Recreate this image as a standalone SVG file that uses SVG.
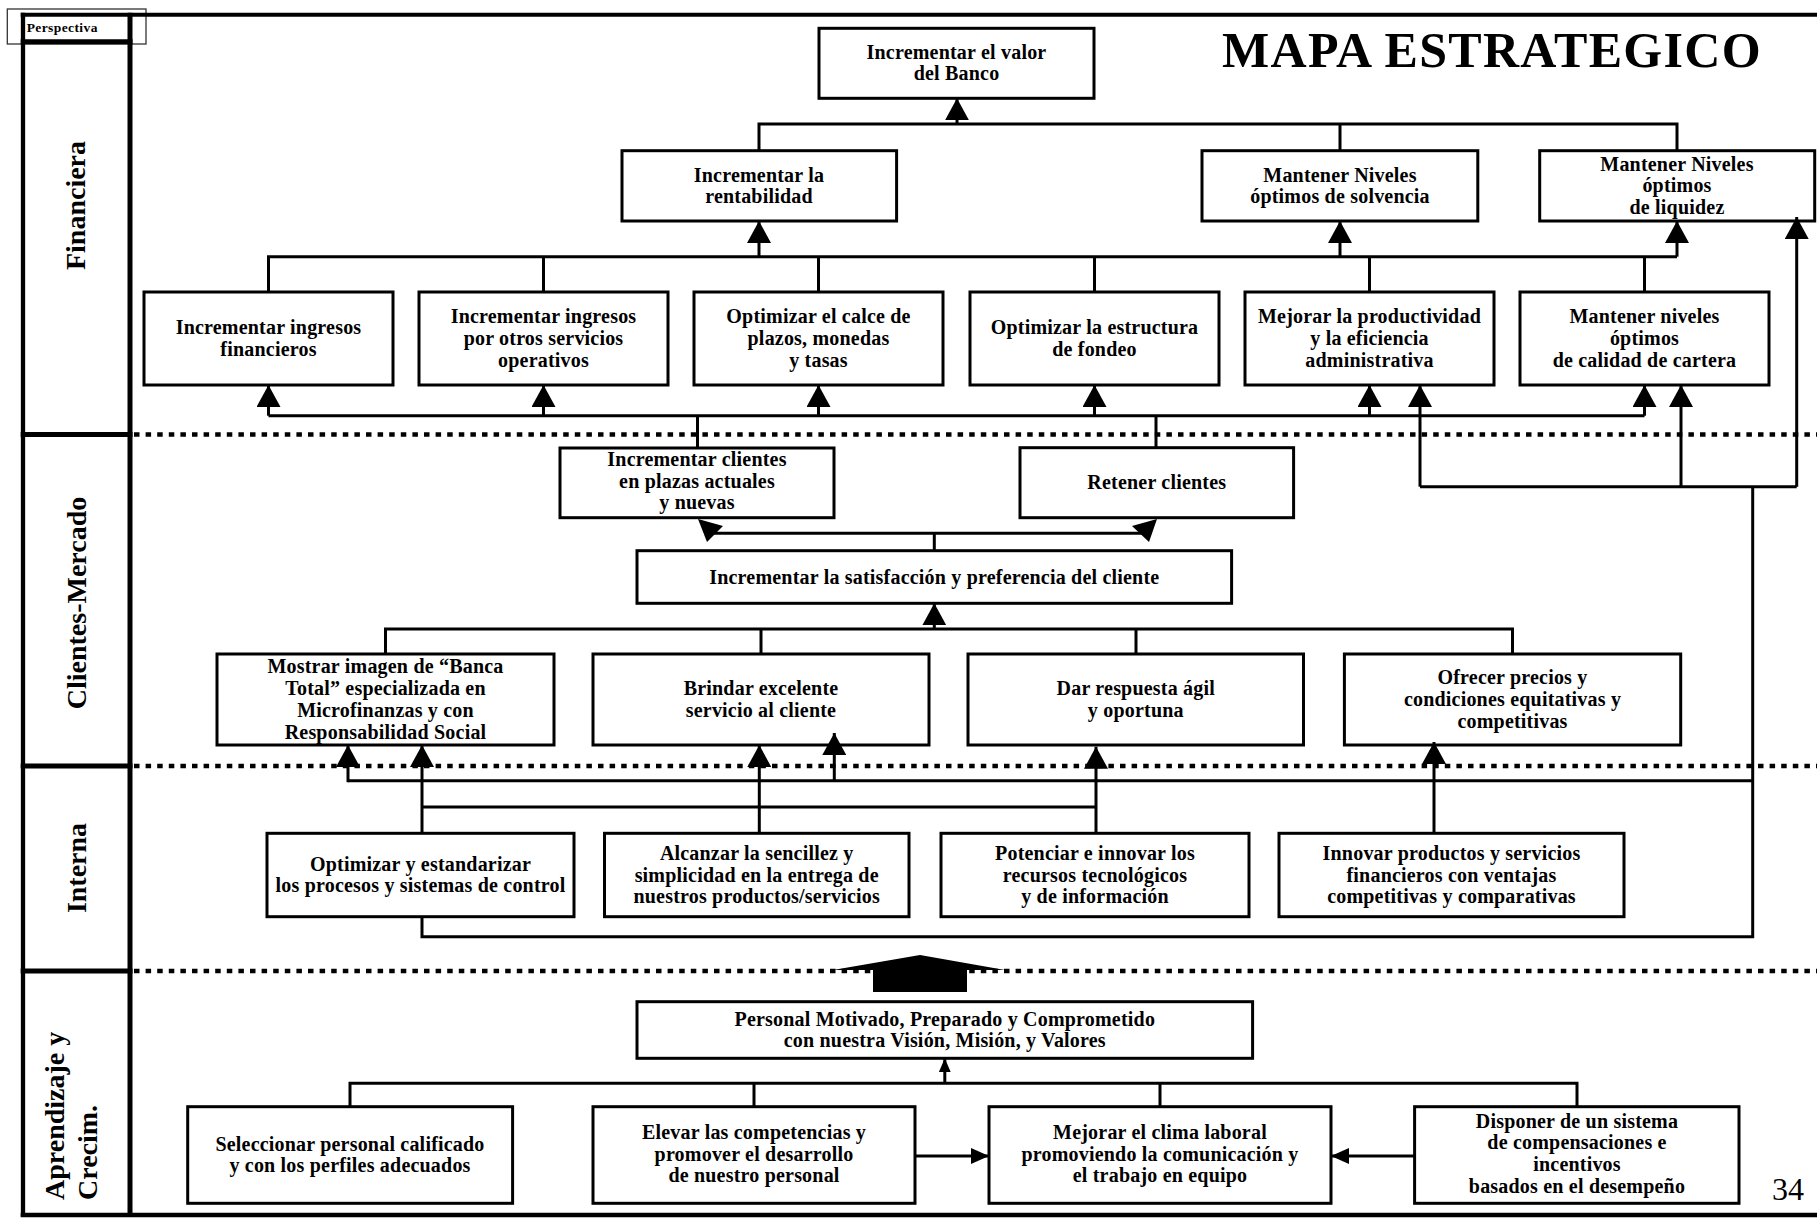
<svg xmlns="http://www.w3.org/2000/svg" width="1817" height="1218" viewBox="0 0 1817 1218">
<style>
.box{fill:#fff;stroke:#000;stroke-width:3}
.t{font-family:"Liberation Serif","Times New Roman",serif;font-weight:bold;font-size:20px;text-anchor:middle;letter-spacing:0.2px;fill:#000}
.lbl{font-family:"Liberation Serif","Times New Roman",serif;font-weight:bold;font-size:28px;fill:#000}
.c{fill:none;stroke:#000;stroke-width:3}
.a{marker-end:url(#ah)}
.as{marker-end:url(#ahs)}
.am{marker-end:url(#ahm)}
.sep{stroke:#000;stroke-width:4.5;stroke-dasharray:5.5 6.1}
.fr{stroke:#000;fill:none}
</style>
<defs>
<marker id="ah" markerUnits="userSpaceOnUse" markerWidth="22" markerHeight="24" refX="22" refY="12" orient="auto" viewBox="0 0 22 24"><path d="M0,0 L22,12 L0,24 Z" fill="#000"/></marker>
<marker id="ahm" markerUnits="userSpaceOnUse" markerWidth="18" markerHeight="16" refX="18" refY="8" orient="auto" viewBox="0 0 18 16"><path d="M0,0 L18,8 L0,16 Z" fill="#000"/></marker>
<marker id="ahs" markerUnits="userSpaceOnUse" markerWidth="14" markerHeight="12" refX="14" refY="6" orient="auto" viewBox="0 0 14 12"><path d="M0,0 L14,6 L0,12 Z" fill="#000"/></marker>
</defs>
<rect width="1817" height="1218" fill="#fff"/>

<g id="frame">
<rect x="7.3" y="9" width="138.7" height="35" fill="none" stroke="#333" stroke-width="1.3"/>
<text x="26.7" y="31.7" font-family="Liberation Serif, serif" font-weight="bold" font-size="13.5" letter-spacing="0.4">Perspectiva</text>
<line class="fr" x1="20.7" y1="14.7" x2="1817" y2="14.7" stroke-width="4"/>
<line class="fr" x1="20.7" y1="1215" x2="1817" y2="1215" stroke-width="4.5"/>
<line class="fr" x1="23" y1="12.7" x2="23" y2="1217" stroke-width="4.3"/>
<line class="fr" x1="130" y1="12.7" x2="130" y2="1217" stroke-width="5"/>
<line class="fr" x1="20.7" y1="41.8" x2="132.5" y2="41.8" stroke-width="5"/>
<line class="fr" x1="20.7" y1="434.5" x2="132.5" y2="434.5" stroke-width="5"/>
<line class="fr" x1="20.7" y1="766" x2="132.5" y2="766" stroke-width="5"/>
<line class="fr" x1="20.7" y1="971" x2="132.5" y2="971" stroke-width="5"/>
<line class="sep" x1="134" y1="434.5" x2="1817" y2="434.5"/>
<line class="sep" x1="134" y1="766" x2="1817" y2="766"/>
<line class="sep" x1="134" y1="971" x2="1817" y2="971"/>
</g>

<g id="perspectivas">
<text class="lbl" text-anchor="middle" transform="translate(85,205.5) rotate(-90)">Financiera</text>
<text class="lbl" text-anchor="middle" transform="translate(86,603) rotate(-90)">Clientes-Mercado</text>
<text class="lbl" text-anchor="middle" transform="translate(86,868) rotate(-90)">Interna</text>
<text class="lbl" transform="translate(64,1200) rotate(-90)">Aprendizaje y</text>
<text class="lbl" transform="translate(97,1200) rotate(-90)">Crecim.</text>
</g>

<text x="1222" y="66.7" font-family="Liberation Serif, serif" font-weight="bold" font-size="50" letter-spacing="1.3">MAPA ESTRATEGICO</text>
<text x="1772" y="1200" font-family="Liberation Serif, serif" font-size="32">34</text>

<g id="nodes">
<g id="n-valor"><rect class="box" x="819" y="28.3" width="275" height="70"/><text class="t"><tspan x="956.5" y="58.5">Incrementar el valor</tspan><tspan x="956.5" y="80.2">del Banco</tspan></text></g>
<g id="n-rentabilidad"><rect class="box" x="622" y="150.7" width="274.6" height="70.3"/><text class="t"><tspan x="759" y="181.5">Incrementar la</tspan><tspan x="759" y="203.2">rentabilidad</tspan></text></g>
<g id="n-solvencia"><rect class="box" x="1202" y="150.7" width="275.8" height="70.3"/><text class="t"><tspan x="1340" y="181.5">Mantener Niveles</tspan><tspan x="1340" y="203.2">óptimos de solvencia</tspan></text></g>
<g id="n-liquidez"><rect class="box" x="1539.7" y="150.7" width="275" height="70.3"/><text class="t"><tspan x="1677" y="170.7">Mantener Niveles</tspan><tspan x="1677" y="192.4">óptimos</tspan><tspan x="1677" y="214.1">de liquidez</tspan></text></g>

<g id="n-ingresos-fin"><rect class="box" x="144" y="292" width="249" height="93"/><text class="t"><tspan x="268.5" y="334.2">Incrementar ingresos</tspan><tspan x="268.5" y="355.9">financieros</tspan></text></g>
<g id="n-ingresos-otros"><rect class="box" x="419" y="292" width="249" height="93"/><text class="t"><tspan x="543.5" y="323.3">Incrementar ingresos</tspan><tspan x="543.5" y="345">por otros servicios</tspan><tspan x="543.5" y="366.7">operativos</tspan></text></g>
<g id="n-calce"><rect class="box" x="694" y="292" width="249" height="93"/><text class="t"><tspan x="818.5" y="323.3">Optimizar el calce de</tspan><tspan x="818.5" y="345">plazos, monedas</tspan><tspan x="818.5" y="366.7">y tasas</tspan></text></g>
<g id="n-fondeo"><rect class="box" x="970" y="292" width="249" height="93"/><text class="t"><tspan x="1094.5" y="334.2">Optimizar la estructura</tspan><tspan x="1094.5" y="355.9">de fondeo</tspan></text></g>
<g id="n-productividad"><rect class="box" x="1245" y="292" width="249" height="93"/><text class="t"><tspan x="1369.5" y="323.3">Mejorar la productividad</tspan><tspan x="1369.5" y="345">y la eficiencia</tspan><tspan x="1369.5" y="366.7">administrativa</tspan></text></g>
<g id="n-cartera"><rect class="box" x="1520" y="292" width="249" height="93"/><text class="t"><tspan x="1644.5" y="323.3">Mantener niveles</tspan><tspan x="1644.5" y="345">óptimos</tspan><tspan x="1644.5" y="366.7">de calidad de cartera</tspan></text></g>

<g id="n-clientes-plazas"><rect class="box" x="560" y="448" width="274" height="69.7"/><text class="t"><tspan x="697" y="466">Incrementar clientes</tspan><tspan x="697" y="487.7">en plazas actuales</tspan><tspan x="697" y="509.4">y nuevas</tspan></text></g>
<g id="n-retener"><rect class="box" x="1020" y="447.7" width="273.6" height="70"/><text class="t" x="1156.8" y="489">Retener clientes</text></g>
<g id="n-satisfaccion"><rect class="box" x="637" y="550.7" width="594.6" height="52.6"/><text class="t" x="934.3" y="583.5">Incrementar la satisfacción y preferencia del cliente</text></g>

<g id="n-imagen"><rect class="box" x="217" y="654" width="337" height="91"/><text class="t"><tspan x="385.5" y="673.4">Mostrar imagen de “Banca</tspan><tspan x="385.5" y="695.1">Total” especializada en</tspan><tspan x="385.5" y="716.8">Microfinanzas y con</tspan><tspan x="385.5" y="738.5">Responsabilidad Social</tspan></text></g>
<g id="n-servicio"><rect class="box" x="593" y="654" width="336" height="91"/><text class="t"><tspan x="761" y="695.2">Brindar excelente</tspan><tspan x="761" y="716.9">servicio al cliente</tspan></text></g>
<g id="n-respuesta"><rect class="box" x="968" y="654" width="335.5" height="91"/><text class="t"><tspan x="1135.8" y="695.2">Dar respuesta ágil</tspan><tspan x="1135.8" y="716.9">y oportuna</tspan></text></g>
<g id="n-precios"><rect class="box" x="1344.4" y="654" width="336.3" height="91"/><text class="t"><tspan x="1512.5" y="684.3">Ofrecer precios y</tspan><tspan x="1512.5" y="706">condiciones equitativas y</tspan><tspan x="1512.5" y="727.7">competitivas</tspan></text></g>

<g id="n-procesos"><rect class="box" x="267" y="833.3" width="307" height="83.4"/><text class="t"><tspan x="420.5" y="870.6">Optimizar y estandarizar</tspan><tspan x="420.5" y="892.3">los procesos y sistemas de control</tspan></text></g>
<g id="n-sencillez"><rect class="box" x="604.5" y="833.3" width="304.5" height="83.4"/><text class="t"><tspan x="756.7" y="859.8">Alcanzar la sencillez y</tspan><tspan x="756.7" y="881.5">simplicidad en la entrega de</tspan><tspan x="756.7" y="903.2">nuestros productos/servicios</tspan></text></g>
<g id="n-tecnologia"><rect class="box" x="941" y="833.3" width="308" height="83.4"/><text class="t"><tspan x="1095" y="859.8">Potenciar e innovar los</tspan><tspan x="1095" y="881.5">recursos tecnológicos</tspan><tspan x="1095" y="903.2">y de información</tspan></text></g>
<g id="n-innovar"><rect class="box" x="1279" y="833.3" width="345" height="83.4"/><text class="t"><tspan x="1451.5" y="859.8">Innovar productos y servicios</tspan><tspan x="1451.5" y="881.5">financieros con ventajas</tspan><tspan x="1451.5" y="903.2">competitivas y comparativas</tspan></text></g>

<g id="n-personal"><rect class="box" x="637" y="1001.7" width="615.6" height="56.6"/><text class="t"><tspan x="944.8" y="1025.7">Personal Motivado, Preparado y Comprometido</tspan><tspan x="944.8" y="1047.4">con nuestra Visión, Misión, y Valores</tspan></text></g>
<g id="n-seleccionar"><rect class="box" x="187.7" y="1106.7" width="324.9" height="96.6"/><text class="t"><tspan x="350" y="1150.6">Seleccionar personal calificado</tspan><tspan x="350" y="1172.3">y con los perfiles adecuados</tspan></text></g>
<g id="n-competencias"><rect class="box" x="593" y="1106.7" width="322" height="96.6"/><text class="t"><tspan x="754" y="1139">Elevar las competencias y</tspan><tspan x="754" y="1160.7">promover el desarrollo</tspan><tspan x="754" y="1182.4">de nuestro personal</tspan></text></g>
<g id="n-clima"><rect class="box" x="989" y="1106.7" width="342" height="96.6"/><text class="t"><tspan x="1160" y="1139">Mejorar el clima laboral</tspan><tspan x="1160" y="1160.7">promoviendo la comunicación y</tspan><tspan x="1160" y="1182.4">el trabajo en equipo</tspan></text></g>
<g id="n-compensaciones"><rect class="box" x="1414.6" y="1106.7" width="324.4" height="96.6"/><text class="t"><tspan x="1577" y="1127.5">Disponer de un sistema</tspan><tspan x="1577" y="1149.2">de compensaciones e</tspan><tspan x="1577" y="1170.9">incentivos</tspan><tspan x="1577" y="1192.6">basados en el desempeño</tspan></text></g>
</g>

<g id="connectors">
<path class="c" d="M759,150.7 V124 H1677 V150.7 M1340,124 V150.7"/>
<path class="c a" d="M957,124 V98.3"/>
<path class="c" d="M268.5,292 V256.7 H1677 M543.5,256.7 V292 M818.5,256.7 V292 M1094.5,256.7 V292 M1369.5,256.7 V292 M1644.5,256.7 V292"/>
<path class="c a" d="M759,256.7 V221"/>
<path class="c a" d="M1340,256.7 V221"/>
<path class="c a" d="M1677,256.7 V221"/>
<path class="c" d="M268.5,415.7 H1644.5 M697.5,415.7 V448 M1156,415.7 V447.7"/>
<path class="c a" d="M268.5,415.7 V385"/>
<path class="c a" d="M543.5,415.7 V385"/>
<path class="c a" d="M818.5,415.7 V385"/>
<path class="c a" d="M1094.5,415.7 V385"/>
<path class="c a" d="M1369.5,415.7 V385"/>
<path class="c a" d="M1644.5,415.7 V385"/>
<path class="c" d="M422,916.7 V936.7 H1752.7 V486.7 M1420,486.7 H1796.7 M348,780.7 H1752.7"/>
<path class="c a" d="M1420,486.7 V385"/>
<path class="c a" d="M1681,486.7 V385"/>
<path class="c a" d="M1796.7,486.7 V217"/>
<path class="c a" d="M348,782.2 V745"/>
<path class="c a" d="M834.3,780.7 V733"/>
<path class="c" d="M422,807 H1096"/>
<path class="c a" d="M422,833.3 V745"/>
<path class="c a" d="M759.3,833.3 V745"/>
<path class="c a" d="M1096,833.3 V746.7"/>
<path class="c a" d="M1434,833.3 V742"/>
<path class="c" d="M934.3,550.7 V533.3 M707,533.3 H1148"/>
<polygon points="698,519 723,526 707,542" fill="#000"/>
<polygon points="1157,519 1132,526 1149,542" fill="#000"/>
<path class="c" d="M385.5,654 V629 H1512.5 V654 M761,629 V654 M1136,629 V654"/>
<path class="c a" d="M934.3,629 V603.3"/>
<polygon points="833,970 920,955 1005,970 967,970 967,992 873,992 873,970" fill="#000"/>
<path class="c" d="M350,1106.7 V1083.3 H1577 V1106.7 M754,1083.3 V1106.7 M1160,1083.3 V1106.7"/>
<path class="c as" d="M944.8,1083.3 V1058.3"/>
<path class="c am" d="M915,1156 H989"/>
<path class="c am" d="M1414.6,1156 H1331"/>
</g>
</svg>
